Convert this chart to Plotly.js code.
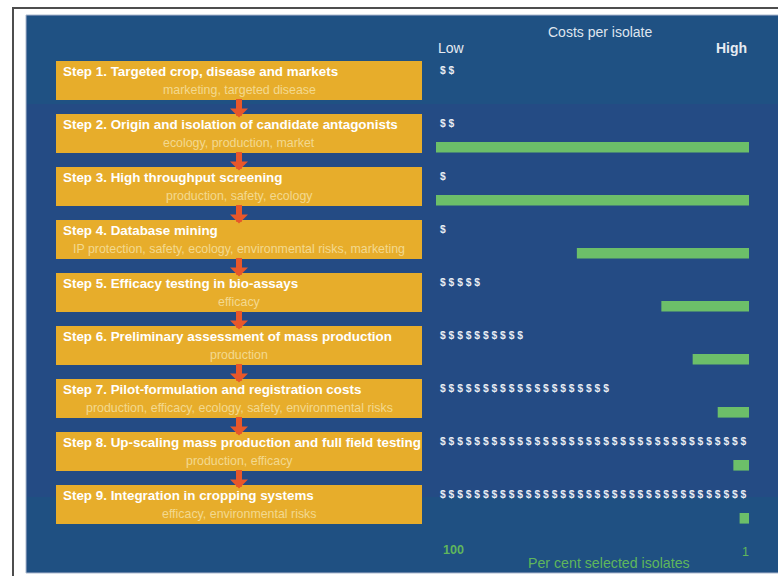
<!DOCTYPE html>
<html>
<head>
<meta charset="utf-8">
<script src="https://cdn.plot.ly/plotly-3.0.1.min.js"></script>
<style>html,body{margin:0;padding:0;background:#fff;}#chart{width:778px;height:576px;}</style>
</head>
<body>
<div id="chart"></div>
<script>
// ---- data ----
const stepIdx = [1, 2, 3, 4, 5, 6, 7, 8, 9];
const stepTitles = [
  'Step 1. Targeted crop, disease and markets',
  'Step 2. Origin and isolation of candidate antagonists',
  'Step 3. High throughput screening',
  'Step 4. Database mining',
  'Step 5. Efficacy testing in bio-assays',
  'Step 6. Preliminary assessment of mass production',
  'Step 7. Pilot-formulation and registration costs',
  'Step 8. Up-scaling mass production and full field testing',
  'Step 9. Integration in cropping systems'
];
const stepCriteria = [
  'marketing, targeted disease',
  'ecology, production, market',
  'production, safety, ecology',
  'IP protection, safety, ecology, environmental risks, marketing',
  'efficacy',
  'production',
  'production, efficacy, ecology, safety, environmental risks',
  'production, efficacy',
  'efficacy, environmental risks'
];
const costDollars = [2, 2, 1, 1, 5, 10, 20, 36, 36];          // number of $ signs
const pctSelected = [null, 100, 100, 55, 28, 18, 10, 5, 3];    // per cent selected isolates
const boxFill = [1, 1, 1, 1, 1, 1, 1, 1, 1];                   // full-width step boxes
const xTickVals = [100, 1];
const xTickText = ['100', '1'];
const costLow = 'Low', costHigh = 'High', costTitle = 'Costs per isolate';
const xTitle = 'Per cent selected isolates';

// ---- styles ----
const FONT = 'Liberation Sans, Arial, sans-serif';
const BLUE = '#244b84';
const YELLOW = '#e7ad2b';
const GREEN = '#6cbf69';
const GREEN_TXT = '#5fb65c';
const ARROW = '#e8572a';

const W = 778, H = 576;
const px = v => v / W;
const py = v => 1 - v / H;

const traces = [
  {
    type: 'bar', orientation: 'h', x: boxFill, y: stepIdx,
    xaxis: 'x2', yaxis: 'y', width: 0.74, offset: -0.37,
    marker: {color: YELLOW, line: {width: 0}}, hoverinfo: 'skip'
  },
  {
    type: 'bar', orientation: 'h', x: pctSelected, y: stepIdx,
    xaxis: 'x', yaxis: 'y', width: 0.2, offset: 0.16,
    marker: {color: GREEN, line: {width: 0}}, hoverinfo: 'skip'
  }
];

const annotations = [];
stepIdx.forEach((k, i) => {
  annotations.push({
    xref: 'x2', yref: 'y', x: 0, y: k, xanchor: 'left', yanchor: 'middle',
    xshift: 5, yshift: 9.5, showarrow: false, text: stepTitles[i],
    font: {family: FONT, size: 13.4, color: '#ffffff', weight: 'bold'}
  });
  annotations.push({
    xref: 'x2', yref: 'y', x: 0.5, y: k, xanchor: 'center', yanchor: 'middle',
    yshift: -9.5, showarrow: false, text: stepCriteria[i],
    font: {family: FONT, size: 12.4, color: '#f3d98f'}
  });
  annotations.push({
    xref: 'x', yref: 'y', x: 100, y: k, xanchor: 'left', yanchor: 'middle',
    xshift: 2, yshift: 10, showarrow: false,
    text: Array(costDollars[i]).fill('$').join(' '),
    font: {family: FONT, size: 10.3, color: '#e9edf3', weight: 'bold'}
  });
  if (k < stepIdx.length) {
    annotations.push({
      xref: 'x2', yref: 'y', x: 0.5, y: k + 1, yshift: 16, ax: 0, ay: -20,
      showarrow: true, arrowhead: 1, arrowsize: 0.5, arrowwidth: 6,
      arrowcolor: ARROW, text: ''
    });
  }
});

annotations.push(
  {xref: 'paper', yref: 'paper', x: px(600), y: py(32), xanchor: 'center', yanchor: 'middle',
   showarrow: false, text: costTitle, font: {family: FONT, size: 14, color: '#dfe5ee'}},
  {xref: 'x', yref: 'paper', x: 100, y: py(48), xanchor: 'left', yanchor: 'middle',
   showarrow: false, text: costLow, font: {family: FONT, size: 14, color: '#e6ebf2'}},
  {xref: 'x', yref: 'paper', x: 0, y: py(48), xanchor: 'right', yanchor: 'middle',
   showarrow: false, text: costHigh, font: {family: FONT, size: 14, color: '#e6ebf2', weight: 'bold'}},
  {xref: 'x', yref: 'paper', x: xTickVals[0], y: py(550), xanchor: 'left', yanchor: 'middle', xshift: 5,
   showarrow: false, text: xTickText[0], font: {family: FONT, size: 12.5, color: GREEN_TXT, weight: 'bold'}},
  {xref: 'x', yref: 'paper', x: xTickVals[1], y: py(552), xanchor: 'center', yanchor: 'middle',
   showarrow: false, text: xTickText[1], font: {family: FONT, size: 12.5, color: GREEN_TXT}},
  {xref: 'paper', yref: 'paper', x: px(609), y: py(563), xanchor: 'center', yanchor: 'middle',
   showarrow: false, text: xTitle, font: {family: FONT, size: 14.2, color: GREEN_TXT}}
);

const shapes = [
  // outer frame
  {type: 'rect', xref: 'paper', yref: 'paper', x0: px(13), x1: px(800), y0: py(8), y1: py(600),
   line: {color: '#4d4d4d', width: 2}, fillcolor: '#ffffff', layer: 'below'},
  // blue panel
  {type: 'rect', xref: 'paper', yref: 'paper', x0: px(26), x1: px(800), y0: py(15), y1: py(573),
   line: {color: '#a9bacd', width: 1}, fillcolor: BLUE, layer: 'below'},
  // subtle lighter bands top and bottom
  {type: 'rect', xref: 'paper', yref: 'paper', x0: px(27), x1: px(800), y0: py(16), y1: py(104),
   line: {width: 0}, fillcolor: '#1f5183', layer: 'below'},
  {type: 'rect', xref: 'paper', yref: 'paper', x0: px(27), x1: px(800), y0: py(497), y1: py(572),
   line: {width: 0}, fillcolor: '#1f5082', layer: 'below'}
];

const layout = {
  width: W, height: H,
  margin: {l: 0, r: 0, t: 0, b: 0, pad: 0},
  paper_bgcolor: '#ffffff', plot_bgcolor: 'rgba(0,0,0,0)',
  showlegend: false,
  xaxis: {domain: [px(436), px(749)], range: [100, 0], visible: false, fixedrange: true,
          anchor: 'y', tickvals: xTickVals, ticktext: xTickText},
  xaxis2: {domain: [px(56), px(422)], range: [0, 1], visible: false, fixedrange: true, anchor: 'y'},
  yaxis: {domain: [1 / H, 561 / H], range: [10.330, -0.236], visible: false, fixedrange: true},
  annotations: annotations,
  shapes: shapes
};

Plotly.newPlot('chart', traces, layout, {displayModeBar: false, staticPlot: true});
</script>
</body>
</html>
